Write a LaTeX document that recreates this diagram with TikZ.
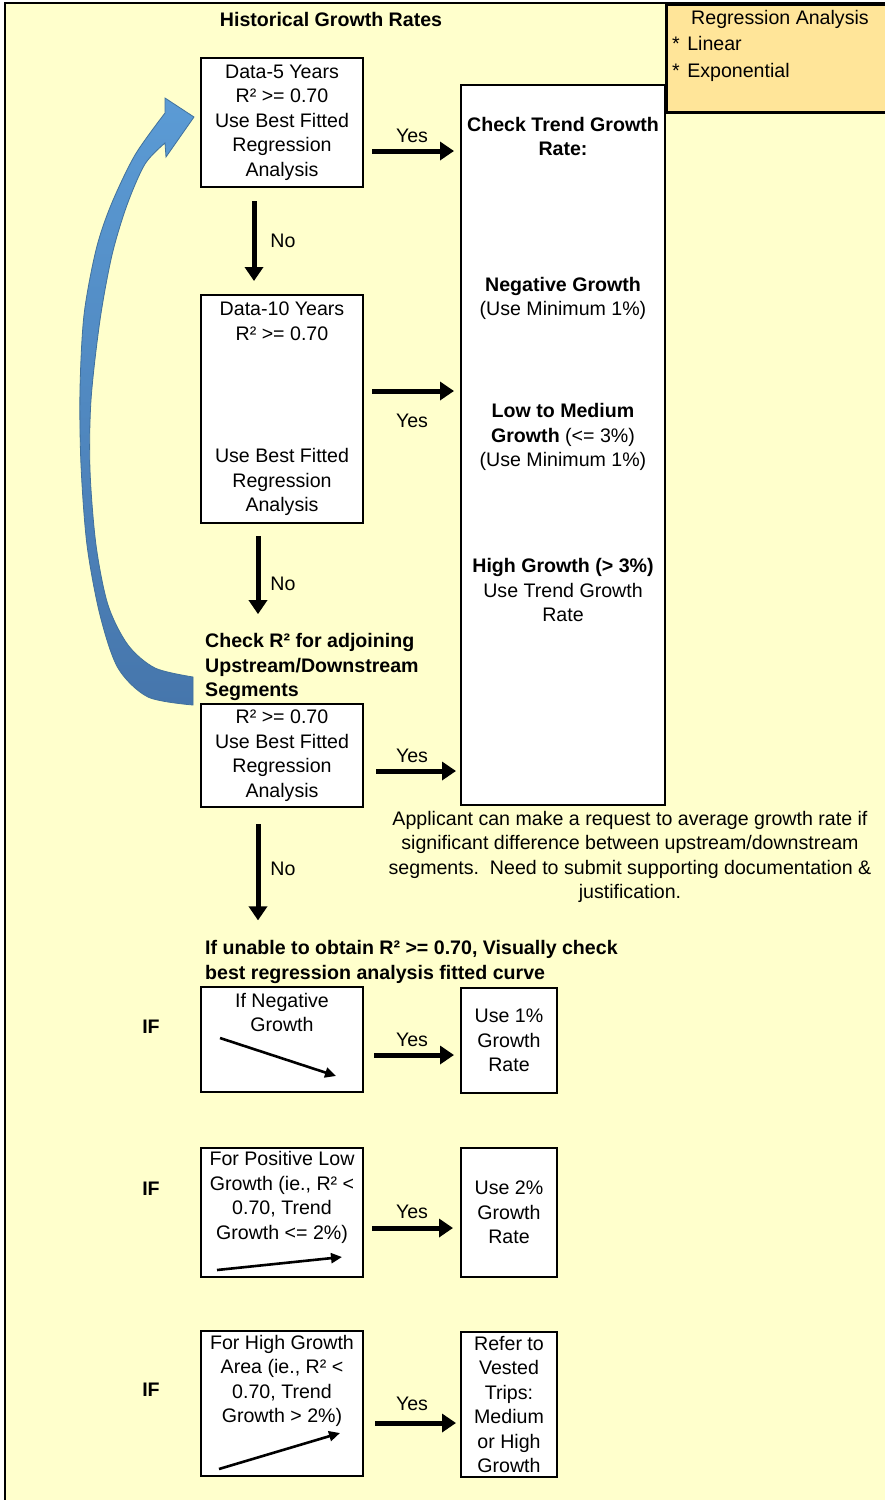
\documentclass[tikz,border=0pt]{standalone}
\usepackage{fontspec}
\setmainfont{Liberation Sans}
\usetikzlibrary{arrows.meta,calc}
\definecolor{bgy}{HTML}{FFFFCC}
\definecolor{orng}{HTML}{FFE599}
\definecolor{blueA}{HTML}{5B9BD5}
\definecolor{blueB}{HTML}{4676AC}
\definecolor{blueE}{HTML}{41719C}
\begin{document}
\begin{tikzpicture}[x=1pt,y=-1pt,
  box/.style={draw=black, line width=2pt, fill=white, inner sep=0pt},
  txt/.style={font=\fontsize{19.6}{24.5}\selectfont, align=center, inner sep=0pt},
  btxt/.style={txt, font=\fontsize{19.6}{24.5}\selectfont\bfseries},
  bigarr/.style={line width=5pt, -{Triangle[length=14pt,width=18pt]}},
  smallarr/.style={line width=2.6pt, -{Triangle[length=11pt,width=10pt]}},
]
\useasboundingbox (0,0) rectangle (885,1500);
\fill[white] (0,0) rectangle (885,1500);
\fill[bgy] (5,3) rectangle (885,1500);
\draw[line width=2.5pt] (5,1505) -- (5,3) -- (885,3);

% orange legend
\node[draw=black, line width=2.5pt, fill=orng, minimum width=225pt, minimum height=108pt, anchor=north west, inner sep=0pt] (reg) at (665,3) {};
\node[txt] (regt) at (780,19.5) {Regression Analysis};
\node[txt, align=left, anchor=west] (regl) at (672,58.5) {*\hspace{2pt} Linear\\[2.5pt]*\hspace{2pt} Exponential};

% title
\node[btxt] (title) at (331,19) {Historical Growth Rates};

% blue curved arrow
\path[top color=blueA, bottom color=blueB, draw=blueE, line width=0.8pt]
  plot[smooth] coordinates {(193,705) (148,697) (118,668) (100,615) (87,545) (81,465) (80,390) (84,315) (96,250) (111,205) (135,155) (165,113)}
  -- (165,98) -- (194,117) -- (166,157) -- (165,143)
  -- plot[smooth] coordinates {(165,143) (145,164) (127,205) (112,255) (100,320) (91,400) (90,470) (96,545) (108,605) (128,645) (155,668) (193,677)}
  -- cycle;

% boxes
\node[box, txt, minimum width=162pt, minimum height=129pt] (b1) at (282,122.5) {Data-5 Years\\R² >= 0.70\\Use Best Fitted\\Regression\\Analysis};
\node[box, minimum width=204pt, minimum height=720pt] (trend) at (563,445) {};
\node[box, txt, minimum width=162pt, minimum height=228pt] (b2) at (282,409) {Data-10 Years\\R² >= 0.70\\[98pt]Use Best Fitted\\Regression\\Analysis};
\node[box, txt, minimum width=162pt, minimum height=103pt] (b3) at (282,755.5) {R² >= 0.70\\Use Best Fitted\\Regression\\Analysis};

% trend box texts
\node[txt] (t1) at (563,136.5) {\textbf{Check Trend Growth}\\\textbf{Rate:}};
\node[txt] (t2) at (563,298.5) {\textbf{Negative Growth}\\(Use Minimum 1\%)};
\node[txt] (t3) at (563,437) {\textbf{Low to Medium}\\\textbf{Growth} (<= 3\%)\\(Use Minimum 1\%)};
\node[txt] (t4) at (563,590) {\textbf{High Growth (> 3\%)}\\Use Trend Growth\\Rate};

% free texts
\node[btxt, align=left, anchor=west] (chk) at (205,667) {Check R² for adjoining\\Upstream/Downstream\\Segments};
\node[txt] (appl) at (630,857) {Applicant can make a request to average growth rate if\\significant difference between upstream/downstream\\segments.\ \ Need to submit supporting documentation \&\\justification.};
\node[btxt, align=left, anchor=west] (unable) at (205,962) {If unable to obtain R² >= 0.70, Visually check\\best regression analysis fitted curve};

\node[btxt] (if1) at (151,1027) {IF};
\node[btxt] (if2) at (151,1189) {IF};
\node[btxt] (if3) at (151,1390) {IF};

% lower boxes
\node[box, minimum width=162pt, minimum height=105pt] (b4) at (282,1039.5) {};
\node[txt] (b4t) at (282,1012.5) {If Negative\\Growth};
\node[box, txt, minimum width=96pt, minimum height=105pt] (b5) at (509,1040.5) {Use 1\%\\Growth\\Rate};
\node[box, minimum width=162pt, minimum height=129pt] (b6) at (282,1212.5) {};
\node[txt] (b6t) at (282,1197.5) {For Positive Low\\Growth (ie., R² <\\0.70, Trend\\Growth <= 2\%)};
\node[box, txt, minimum width=96pt, minimum height=129pt] (b7) at (509,1212.5) {Use 2\%\\Growth\\Rate};
\node[box, minimum width=162pt, minimum height=145pt] (b8) at (282,1403.5) {};
\node[txt] (b8t) at (282,1381) {For High Growth\\Area (ie., R² <\\0.70, Trend\\Growth > 2\%)};
\node[box, txt, minimum width=96pt, minimum height=145pt] (b9) at (509,1404.5) {Refer to\\Vested\\Trips:\\Medium\\or High\\Growth};

% trend sketches
\draw[smallarr] (220,1038) -- (336,1076);
\draw[smallarr] (217,1270) -- (342,1257);
\draw[smallarr] (219,1469) -- (340,1433);

% Yes arrows
\coordinate (a1) at ([yshift=-28.5pt]b1.east);
\draw[bigarr, shorten <=8pt, shorten >=6pt] (a1) -- (a1 -| trend.west) node[midway, yshift=15pt, txt] (y1) {Yes};
\coordinate (a2) at ([yshift=18pt]b2.east);
\draw[bigarr, shorten <=8pt, shorten >=6pt] (a2) -- (a2 -| trend.west) node[midway, yshift=-30pt, txt] (y2) {Yes};
\coordinate (a3) at ([yshift=-15.5pt]b3.east);
\draw[bigarr, shorten <=12pt, shorten >=4pt] (a3) -- (a3 -| trend.west) node[midway, yshift=15pt, txt] (y3) {Yes};
\coordinate (a4) at ([yshift=-15.5pt]b4.east);
\draw[bigarr, shorten <=10pt, shorten >=6pt] (a4) -- (a4 -| b5.west) node[midway, yshift=15pt, txt] (y4) {Yes};
\coordinate (a5) at ([yshift=-15.5pt]b6.east);
\draw[bigarr, shorten <=8pt, shorten >=7pt] (a5) -- (a5 -| b7.west) node[midway, yshift=16pt, txt] (y5) {Yes};
\coordinate (a6) at ([yshift=-19.5pt]b8.east);
\draw[bigarr, shorten <=11pt, shorten >=4pt] (a6) -- (a6 -| b9.west) node[midway, yshift=19pt, txt] (y6) {Yes};

% No arrows
\coordinate (n1) at ([xshift=-28pt]b1.south);
\draw[bigarr, shorten <=13pt, shorten >=13pt] (n1) -- (n1 |- b2.north) node[midway, xshift=29pt, txt] (no1) {No};
\coordinate (n2) at ([xshift=-24pt]b2.south);
\draw[bigarr, shorten <=12pt, shorten >=19pt] (n2) -- (n2 |- chk.north) node[pos=0.55, xshift=25pt, txt] (no2) {No};
\coordinate (n3) at ([xshift=-24pt]b3.south);
\draw[bigarr, shorten <=16pt, shorten >=20pt] (n3) -- (n3 |- unable.north) node[pos=0.46, xshift=25pt, txt] (no3) {No};
\end{tikzpicture}
\end{document}
